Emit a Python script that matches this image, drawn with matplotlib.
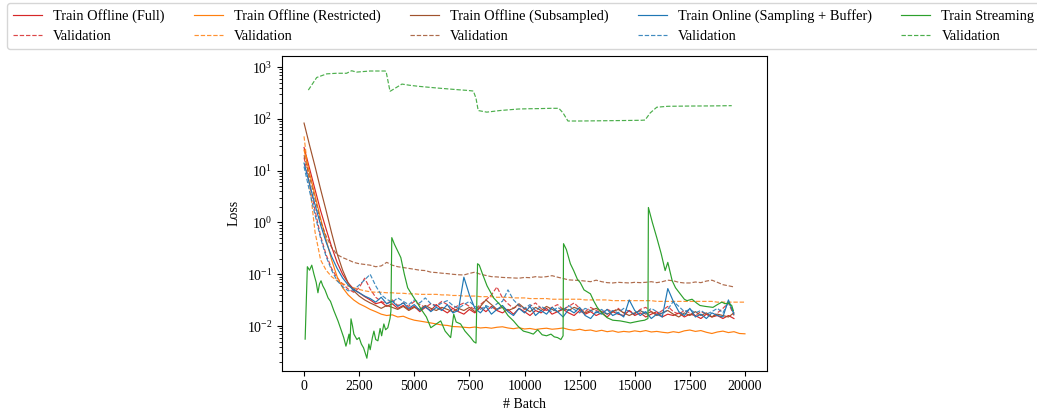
import numpy as np
import matplotlib
matplotlib.use("Agg")
import matplotlib.pyplot as plt
from matplotlib.ticker import NullFormatter

plt.rcParams['font.family'] = ['Liberation Serif', 'DejaVu Serif']
plt.rcParams['mathtext.fontset'] = 'stix'
plt.rcParams['font.size'] = 10

# batch grids
batches = np.arange(0, 19501, 250)
batches_long = np.arange(0, 20001, 250)
loss_ticks = [1e-2, 1e-1, 1e0, 1e1, 1e2, 1e3]
batch_ticks = [0, 2500, 5000, 7500, 10000, 12500, 15000, 17500, 20000]

full_train = [28, 11, 4.3, 1.7, 0.75, 0.34, 0.17, 0.1, 0.068, 0.052, 0.044, 0.037,
              0.032, 0.027, 0.029, 0.024, 0.027, 0.022, 0.025, 0.021, 0.024, 0.019,
              0.023, 0.020, 0.026, 0.021, 0.018, 0.022, 0.019, 0.017, 0.021, 0.018,
              0.023, 0.019, 0.024, 0.020, 0.018, 0.021, 0.017, 0.022, 0.019, 0.016,
              0.020, 0.018, 0.022, 0.017, 0.019, 0.021, 0.018, 0.016, 0.020, 0.017,
              0.019, 0.016, 0.018, 0.015, 0.019, 0.017, 0.016, 0.020, 0.016, 0.018,
              0.015, 0.017, 0.019, 0.015, 0.017, 0.016, 0.018, 0.015, 0.017, 0.016,
              0.014, 0.017, 0.015, 0.016, 0.014, 0.016, 0.014]
full_val = [18, 5.5, 1.7, 0.55, 0.24, 0.13, 0.085, 0.065, 0.052, 0.045, 0.055, 0.084,
            0.052, 0.036, 0.030, 0.027, 0.032, 0.025, 0.028, 0.024, 0.030, 0.026,
            0.023, 0.027, 0.025, 0.030, 0.026, 0.022, 0.025, 0.028, 0.024, 0.021,
            0.026, 0.032, 0.040, 0.057, 0.035, 0.027, 0.022, 0.025, 0.021, 0.024,
            0.028, 0.022, 0.020, 0.023, 0.026, 0.021, 0.024, 0.028, 0.022, 0.019,
            0.023, 0.020, 0.018, 0.021, 0.019, 0.022, 0.018, 0.020, 0.017, 0.021,
            0.023, 0.019, 0.017, 0.020, 0.024, 0.019, 0.017, 0.020, 0.018, 0.016,
            0.019, 0.017, 0.015, 0.018, 0.022, 0.028, 0.016]

restricted_train = [25, 9, 3.3, 1.2, 0.47, 0.19, 0.09, 0.055, 0.04, 0.032, 0.027, 0.024,
                    0.021, 0.019, 0.017, 0.016, 0.0165, 0.015, 0.0155, 0.014, 0.013, 0.0125,
                    0.012, 0.0115, 0.011, 0.0105, 0.0103, 0.0098, 0.0097, 0.0095, 0.0093, 0.0096,
                    0.0092, 0.0094, 0.0091, 0.0095, 0.0097, 0.0092, 0.0089, 0.0093, 0.0088, 0.009,
                    0.0086, 0.0089, 0.0091, 0.0087, 0.0089, 0.0092, 0.0086, 0.0083, 0.0087, 0.0082,
                    0.0084, 0.0079, 0.0083, 0.0078, 0.0081, 0.0076, 0.0079, 0.0077, 0.0081, 0.0078,
                    0.0082, 0.0077, 0.0079, 0.0076, 0.0074, 0.0078, 0.0075, 0.0081, 0.0084, 0.0079,
                    0.0082, 0.0076, 0.0072, 0.0077, 0.008, 0.0075, 0.0078, 0.0072, 0.0071]
restricted_val = [46, 5.5, 0.65, 0.19, 0.12, 0.09, 0.075, 0.066, 0.059, 0.055, 0.051, 0.048,
                  0.046, 0.045, 0.045, 0.044, 0.044, 0.043, 0.043, 0.042, 0.042, 0.041,
                  0.041, 0.041, 0.041, 0.040, 0.040, 0.039, 0.039, 0.038, 0.038, 0.038,
                  0.037, 0.037, 0.037, 0.036, 0.036, 0.036, 0.035, 0.035, 0.035, 0.034,
                  0.034, 0.034, 0.034, 0.033, 0.033, 0.033, 0.033, 0.033, 0.033, 0.032,
                  0.032, 0.032, 0.032, 0.032, 0.031, 0.031, 0.031, 0.031, 0.031, 0.031,
                  0.031, 0.031, 0.030, 0.030, 0.030, 0.030, 0.030, 0.030, 0.030, 0.030,
                  0.030, 0.030, 0.030, 0.029, 0.029, 0.029, 0.029, 0.029, 0.029]

sub_train = [83, 31, 12, 4.4, 1.7, 0.63, 0.25, 0.12, 0.068, 0.048, 0.038, 0.032,
             0.028, 0.025, 0.022, 0.025, 0.023, 0.021, 0.024, 0.020, 0.023, 0.021,
             0.025, 0.022, 0.020, 0.023, 0.021, 0.019, 0.022, 0.020, 0.023, 0.019,
             0.024, 0.032, 0.026, 0.021, 0.023, 0.020, 0.022, 0.027, 0.022, 0.019,
             0.023, 0.020, 0.024, 0.021, 0.019, 0.022, 0.020, 0.023, 0.021, 0.018,
             0.020, 0.022, 0.019, 0.017, 0.019, 0.021, 0.018, 0.016, 0.018, 0.020,
             0.017, 0.019, 0.016, 0.018, 0.020, 0.017, 0.015, 0.018, 0.016, 0.019,
             0.016, 0.018, 0.015, 0.017, 0.016, 0.015, 0.018]
sub_val = [20, 7.5, 2.8, 1.05, 0.55, 0.33, 0.24, 0.21, 0.19, 0.17, 0.16, 0.155,
           0.15, 0.14, 0.145, 0.17, 0.15, 0.14, 0.135, 0.13, 0.125, 0.12,
           0.118, 0.11, 0.108, 0.105, 0.103, 0.1, 0.098, 0.097, 0.104, 0.11,
           0.1, 0.095, 0.09, 0.089, 0.087, 0.086, 0.085, 0.084, 0.087, 0.086,
           0.09, 0.088, 0.09, 0.094, 0.088, 0.083, 0.078, 0.077, 0.076, 0.074,
           0.072, 0.077, 0.072, 0.069, 0.068, 0.07, 0.069, 0.068, 0.07, 0.069,
           0.07, 0.072, 0.069, 0.072, 0.077, 0.075, 0.07, 0.068, 0.068, 0.071,
           0.069, 0.074, 0.077, 0.07, 0.063, 0.06, 0.057]

online_train = [14, 5.5, 2.2, 0.9, 0.42, 0.22, 0.13, 0.085, 0.062, 0.05, 0.044, 0.038,
                0.034, 0.029, 0.036, 0.027, 0.030, 0.024, 0.028, 0.022, 0.026, 0.020,
                0.024, 0.019, 0.023, 0.020, 0.026, 0.018, 0.020, 0.088, 0.040, 0.022,
                0.018, 0.024, 0.017, 0.021, 0.025, 0.019, 0.016, 0.022, 0.018, 0.024,
                0.016, 0.020, 0.017, 0.023, 0.019, 0.015, 0.021, 0.018, 0.023, 0.016,
                0.014, 0.019, 0.017, 0.021, 0.016, 0.018, 0.015, 0.032, 0.020, 0.016,
                0.019, 0.014, 0.017, 0.015, 0.053, 0.030, 0.019, 0.016, 0.022, 0.015,
                0.017, 0.014, 0.018, 0.016, 0.015, 0.032, 0.017]
online_val = [12, 4.0, 1.4, 0.5, 0.22, 0.12, 0.075, 0.058, 0.048, 0.05, 0.062, 0.078,
              0.1, 0.06, 0.04, 0.033, 0.029, 0.035, 0.030, 0.026, 0.032, 0.028,
              0.035, 0.027, 0.024, 0.028, 0.031, 0.025, 0.022, 0.026, 0.030, 0.024,
              0.021, 0.025, 0.022, 0.027, 0.030, 0.050, 0.032, 0.025, 0.022, 0.026,
              0.020, 0.024, 0.021, 0.019, 0.023, 0.020, 0.025, 0.021, 0.018, 0.022,
              0.020, 0.018, 0.021, 0.017, 0.020, 0.018, 0.022, 0.019, 0.017, 0.020,
              0.018, 0.022, 0.019, 0.017, 0.021, 0.030, 0.024, 0.019, 0.021, 0.018,
              0.020, 0.017, 0.019, 0.022, 0.018, 0.029, 0.018]

stream_train_x = [50, 150, 250, 350, 450, 550, 630, 700, 770, 850, 950, 1090, 1200, 1350,
                  1540, 1700, 1800, 1900, 1980, 2040, 2080, 2130, 2200, 2260, 2400, 2500,
                  2600, 2700, 2850, 2940, 3000, 3100, 3170, 3250, 3350, 3450, 3520, 3620,
                  3700, 3800, 3900, 3940, 3980, 4100, 4250, 4390, 4550, 4700, 4900, 5160,
                  5350, 5550, 5750, 6000, 6200, 6400, 6650, 6790, 6900, 7100, 7300, 7560,
                  7700, 7800, 7870, 7950, 8100, 8300, 8600, 9000, 9250, 9500, 9700, 9950,
                  10200, 10400, 10600, 10800, 11000, 11200, 11350, 11500, 11650, 11750,
                  11770, 11900, 12080, 12230, 12400, 12530, 12700, 12990, 13150, 13300,
                  13500, 13750, 14000, 14340, 14600, 14800, 15000, 15250, 15450, 15600,
                  15620, 15800, 16000, 16200, 16380, 16500, 16700, 16850, 17060, 17250,
                  17370, 17600, 17800, 17960, 18200, 18550, 18750, 18950, 19100, 19250,
                  19400, 19470]
stream_train = [0.0056, 0.14, 0.12, 0.15, 0.10, 0.07, 0.044, 0.065, 0.075, 0.06, 0.05, 0.035,
                0.03, 0.02, 0.0126, 0.008, 0.006, 0.0041, 0.0055, 0.007, 0.0045, 0.0138,
                0.01, 0.007, 0.0055, 0.006, 0.0045, 0.0038, 0.0024, 0.0045, 0.0035, 0.006,
                0.008, 0.0055, 0.0052, 0.009, 0.0065, 0.011, 0.0085, 0.0093, 0.014, 0.0195,
                0.51, 0.38, 0.28, 0.21, 0.10, 0.055, 0.04, 0.027, 0.02, 0.015, 0.0093,
                0.011, 0.0126, 0.008, 0.006, 0.017, 0.012, 0.011, 0.008, 0.006, 0.005,
                0.0047, 0.16, 0.15, 0.10, 0.06, 0.035, 0.023, 0.016, 0.0126, 0.010, 0.008,
                0.0075, 0.007, 0.0085, 0.0068, 0.0065, 0.007, 0.0062, 0.006, 0.0055,
                0.0065, 0.39, 0.30, 0.16, 0.118, 0.08, 0.069, 0.05, 0.042, 0.03, 0.023,
                0.018, 0.0145, 0.013, 0.0126, 0.012, 0.0115, 0.012, 0.0126, 0.013, 0.014,
                1.95, 1.0, 0.51, 0.25, 0.118, 0.17, 0.075, 0.055, 0.042, 0.033, 0.031,
                0.033, 0.028, 0.025, 0.024, 0.023, 0.026, 0.029, 0.027, 0.028, 0.025, 0.02]

stream_val_x = [195, 575, 1030, 1480, 1930, 2160, 2380, 2990, 3670, 3720, 3900, 4440,
                4800, 5200, 5600, 6020, 6500, 7000, 7400, 7680, 7800, 7900, 8290, 8890,
                9720, 10200, 10700, 11200, 11560, 11750, 11970, 12500, 13500, 14500,
                15300, 15470, 15700, 16000, 16500, 17500, 18500, 19400]
stream_val = [360, 630, 740, 760, 760, 850, 800, 840, 840, 830, 340, 470,
              445, 425, 410, 395, 380, 365, 355, 345, 250, 145, 135, 145,
              155, 157, 158, 160, 160, 130, 91, 91, 92, 93,
              94, 95, 130, 168, 175, 177, 178, 180]

series = [
    ("Train Offline (Full)", batches, full_train, "#d62728", "-"),
    ("Validation", batches, full_val, "#d62728", "--"),
    ("Train Offline (Restricted)", batches_long, restricted_train, "#ff7f0e", "-"),
    ("Validation", batches_long, restricted_val, "#ff7f0e", "--"),
    ("Train Offline (Subsampled)", batches, sub_train, "#a0522d", "-"),
    ("Validation", batches, sub_val, "#a0522d", "--"),
    ("Train Online (Sampling + Buffer)", batches, online_train, "#1f77b4", "-"),
    ("Validation", batches, online_val, "#1f77b4", "--"),
    ("Train Streaming", stream_train_x, stream_train, "#2ca02c", "-"),
    ("Validation", stream_val_x, stream_val, "#2ca02c", "--"),
]

fig = plt.figure(figsize=(10.37, 4.15), dpi=100)
ax = fig.add_axes([282 / 1037, 1 - 370.7 / 415, (767 - 282) / 1037, (370.7 - 56) / 415])

handles = []
for label, x, y, color, ls in series:
    h, = ax.plot(x, y, color=color, linestyle=ls, linewidth=0.85,
                 alpha=1.0 if ls == "-" else 0.85, label=label)
    handles.append(h)

ax.set_yscale("log")
ax.set_yticks(loss_ticks)
ax.yaxis.set_minor_formatter(NullFormatter())
ax.set_xlim(-1000, 21000)
ax.set_ylim(10 ** -2.861, 10 ** 3.214)
ax.set_xticks(batch_ticks)
ax.set_xlabel("# Batch", labelpad=3)
ax.set_ylabel("Loss")

fig.legend(handles=handles, labels=[s[0] for s in series], ncol=5,
           loc="upper left", bbox_to_anchor=(7 / 1037, 1 - 3 / 415),
           borderaxespad=0.0, fontsize=10.4)

fig.savefig("out.png", dpi=100)
